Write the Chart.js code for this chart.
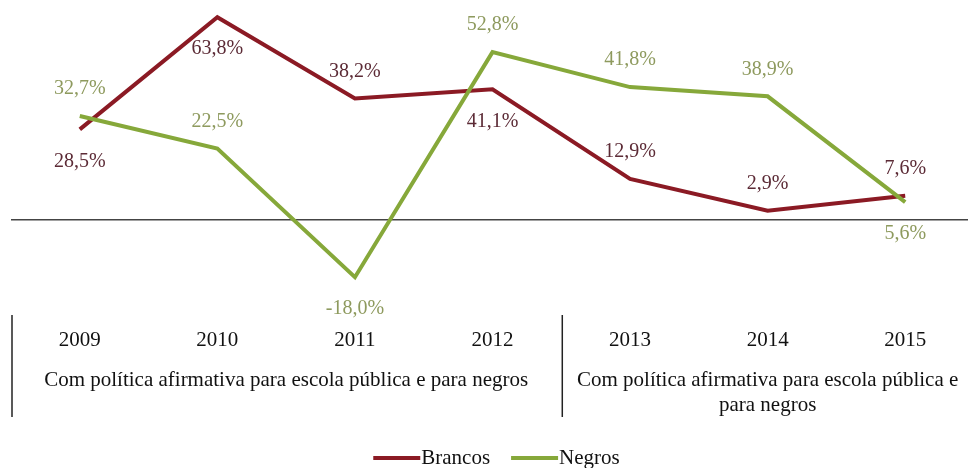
<!DOCTYPE html>
<html>
<head>
<meta charset="utf-8">
<script src="https://cdn.jsdelivr.net/npm/chart.js@4.4.0/dist/chart.umd.min.js"></script>
<style>
  html, body { margin: 0; padding: 0; background: #fff; overflow: hidden; }
  #wrap { width: 974px; height: 468px; }
</style>
</head>
<body>
<div id="wrap"><canvas id="myChartRates"></canvas></div>
<script>
// Data
const years = ["2009", "2010", "2011", "2012", "2013", "2014", "2015"];
const brancos = [28.5, 63.8, 38.2, 41.1, 12.9, 2.9, 7.6];
const negros = [32.7, 22.5, -18.0, 52.8, 41.8, 38.9, 5.6];
const groupLabels = [
  ["Com política afirmativa para escola pública e para negros"],
  ["Com política afirmativa para escola pública e", "para negros"],
];
const groupRanges = [[0, 3], [4, 6]];

// where each value label sits relative to its point
const brancosLabelPos = ["below", "below", "above", "below", "above", "above", "above"];
const negrosLabelPos = ["above", "above", "below", "above", "above", "above", "below"];

const serif = '"Liberation Serif", "Times New Roman", serif';

// value labels like "28,5%"
const valueLabels = {
  id: "valueLabels",
  afterDatasetsDraw(chart) {
    const ctx = chart.ctx;
    ctx.save();
    ctx.font = "20px " + serif;
    ctx.textAlign = "center";
    ctx.textBaseline = "middle";
    chart.data.datasets.forEach((ds, i) => {
      const meta = chart.getDatasetMeta(i);
      meta.data.forEach((pt, j) => {
        const dy = ds.labelPos[j] === "above" ? -27 : 32;
        ctx.fillStyle = ds.labelColor;
        ctx.fillText(ds.data[j].toFixed(1).replace(".", ",") + "%", pt.x, pt.y + dy);
      });
    });
    ctx.restore();
  },
};

// group captions, separators and legend under the year ticks
const groupAxis = {
  id: "groupAxis",
  afterDraw(chart) {
    const { ctx, chartArea } = chart;
    const x = chart.scales.x;
    const top = chartArea.bottom;
    ctx.save();

    ctx.strokeStyle = "#222";
    ctx.lineWidth = 1.5;
    const seps = [chartArea.left + 1, (x.getPixelForValue(3) + x.getPixelForValue(4)) / 2 + 1];
    seps.forEach((px) => {
      ctx.beginPath();
      ctx.moveTo(px, top - 1);
      ctx.lineTo(px, top + 101);
      ctx.stroke();
    });

    ctx.fillStyle = "#111";
    ctx.font = "21px " + serif;
    ctx.textAlign = "center";
    ctx.textBaseline = "middle";
    groupLabels.forEach((lines, g) => {
      const [a, b] = groupRanges[g];
      const cx = (x.getPixelForValue(a) + x.getPixelForValue(b)) / 2;
      lines.forEach((line, k) => {
        ctx.fillText(line, cx, top + 64 + k * 25);
      });
    });

    // legend
    const lineLen = 47;
    const gap = 22;
    const ly = 458;
    const items = chart.data.datasets.map((ds) => ({
      label: ds.label,
      color: ds.borderColor,
      w: ctx.measureText(ds.label).width,
    }));
    let total = 0;
    items.forEach((it, i) => { total += lineLen + it.w + (i ? gap : 0); });
    let lx = 496 - total / 2;
    ctx.textAlign = "left";
    items.forEach((it) => {
      ctx.strokeStyle = it.color;
      ctx.lineWidth = 4;
      ctx.beginPath();
      ctx.moveTo(lx, ly);
      ctx.lineTo(lx + lineLen, ly);
      ctx.stroke();
      ctx.fillStyle = "#111";
      ctx.fillText(it.label, lx + lineLen + 1, ly);
      lx += lineLen + it.w + gap;
    });

    ctx.restore();
  },
};

// Create the chart
const ctx = document.getElementById("myChartRates").getContext("2d");
new Chart(ctx, {
  type: "line",
  data: {
    labels: years,
    datasets: [
      {
        label: "Brancos",
        data: brancos,
        borderColor: "#8b1a24",
        labelColor: "#5c2b36",
        labelPos: brancosLabelPos,
        borderWidth: 4,
        pointRadius: 0,
        fill: false,
        tension: 0,
        order: 1,
      },
      {
        label: "Negros",
        data: negros,
        borderColor: "#86a83a",
        labelColor: "#8e9a5e",
        labelPos: negrosLabelPos,
        borderWidth: 4,
        pointRadius: 0,
        fill: false,
        tension: 0,
        order: 0,
      },
    ],
  },
  options: {
    responsive: true,
    maintainAspectRatio: false,
    animation: false,
    events: [],
    layout: { padding: { left: 11, top: 0, right: 0, bottom: 0 } },
    plugins: {
      legend: { display: false },
      tooltip: { enabled: false },
    },
    scales: {
      x: {
        offset: true,
        grid: { display: false, drawTicks: false, offset: true },
        border: { display: false },
        ticks: {
          font: { family: serif, size: 21 },
          color: "#111",
          padding: 12,
          maxRotation: 0,
          autoSkip: false,
        },
        afterFit(scale) {
          scale.height = 152;
        },
      },
      y: {
        min: -30.2,
        max: 69.2,
        ticks: { display: false, stepSize: 10 },
        border: { display: false },
        grid: {
          drawTicks: false,
          lineWidth: 1.5,
          color: (c) => (c.tick && c.tick.value === 0 ? "#444" : "transparent"),
        },
      },
    },
  },
  plugins: [valueLabels, groupAxis],
});
</script>
</body>
</html>
